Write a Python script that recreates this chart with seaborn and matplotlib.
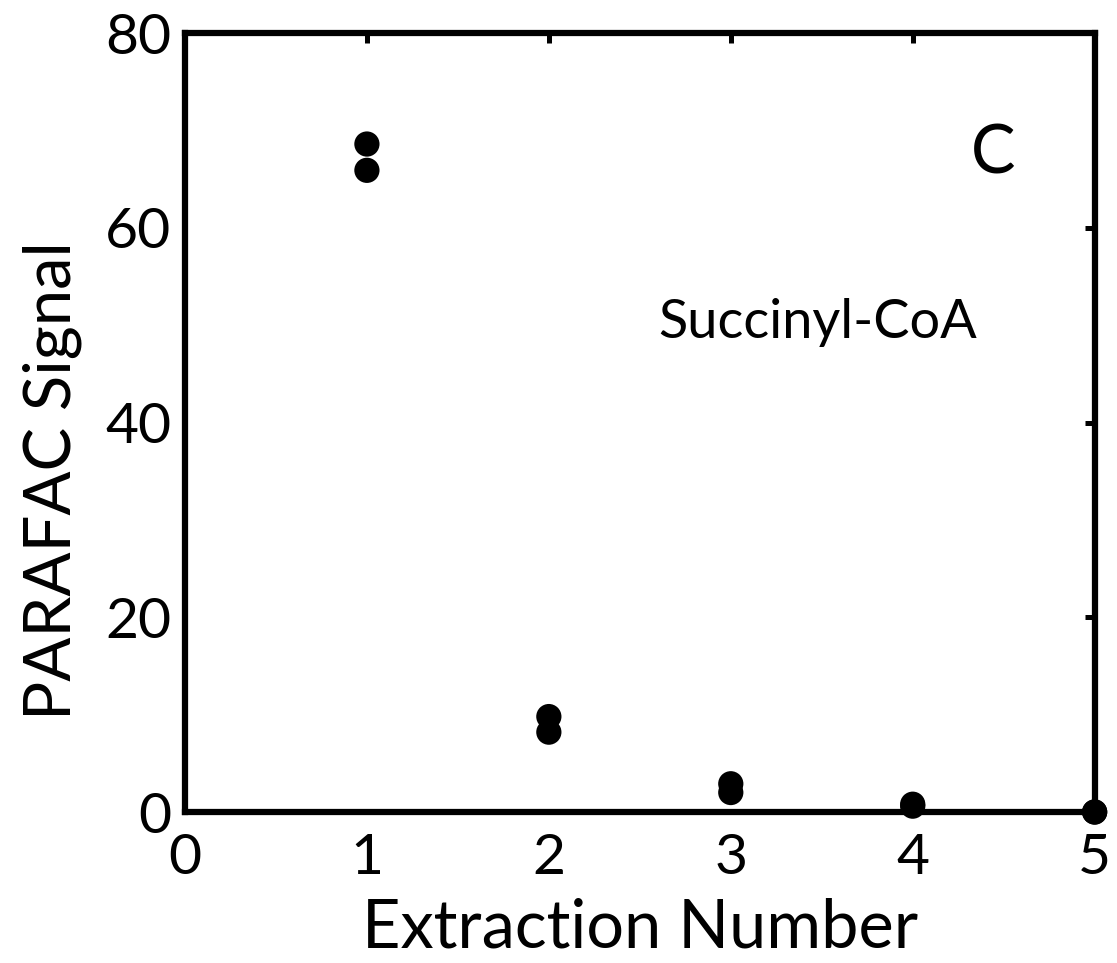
import matplotlib
matplotlib.use("Agg")
import matplotlib.pyplot as plt
import seaborn as sns
import pandas as pd

# Extraction series: two replicate measurements per extraction
extraction = [1, 1, 2, 2, 3, 3, 4, 4, 5, 5]
signal = [68.6, 65.9, 9.8, 8.2, 2.9, 2.0, 0.8, 0.6, 0.0, 0.0]

x_ticks = [0, 1, 2, 3, 4, 5]
y_ticks = [0, 20, 40, 60, 80]

sns.set_theme(style="white")
plt.rcParams["font.family"] = ["Lato", "DejaVu Sans"]
plt.rcParams["text.color"] = "black"
plt.rcParams["axes.labelcolor"] = "black"

df = pd.DataFrame({"Extraction Number": extraction, "PARAFAC Signal": signal})

fig = plt.figure(figsize=(11.17, 9.63), dpi=100)
ax = fig.add_axes([0.1656, 0.1568, 0.8144, 0.8089])

sns.scatterplot(data=df, x="Extraction Number", y="PARAFAC Signal", ax=ax,
                color="black", s=330, edgecolor="none", clip_on=False, zorder=5)

ax.set_xlim(0, 5)
ax.set_ylim(0, 80)
ax.set_xticks(x_ticks)
ax.set_yticks(y_ticks)
ax.tick_params(axis="both", direction="in", length=7, width=3.6, labelsize=41,
               top=True, right=True, colors="black")
ax.tick_params(axis="x", pad=15)
ax.tick_params(axis="y", pad=10)
for sp in ax.spines.values():
    sp.set_linewidth(4.5)
    sp.set_color("black")

ax.set_xlabel("Extraction Number", fontsize=48, labelpad=10)
ax.set_ylabel("PARAFAC Signal", fontsize=47)
ax.yaxis.set_label_coords(-0.113, 0.425)

ax.text(4.44, 67.5, "C", fontsize=48, ha="center", va="center")
ax.text(3.48, 50.3, "Succinyl-CoA", fontsize=39, ha="center", va="center")

fig.savefig("out.png", dpi=100)
